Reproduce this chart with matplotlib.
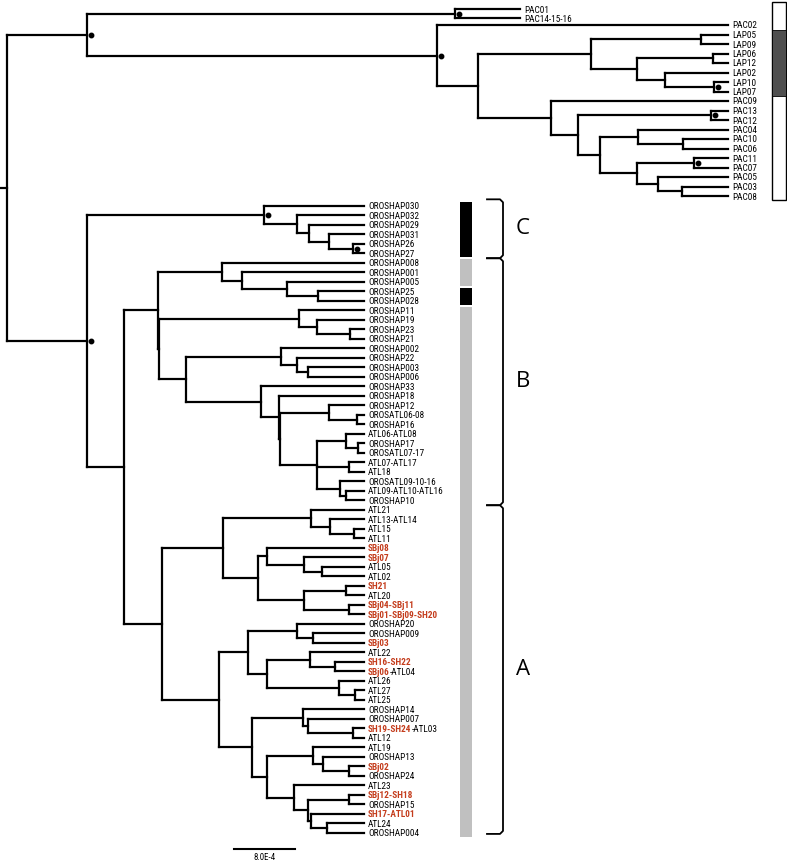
import matplotlib
matplotlib.use('Agg')
import matplotlib.pyplot as plt
from matplotlib import font_manager
from matplotlib.collections import LineCollection
from matplotlib.patches import Rectangle


def N(depth, *children, dot=False, tip=None):
    return {'d': depth, 'kids': list(children), 'dot': dot, 'tip': tip}

# ---------------- data: node depths in units of 1e-4 substitutions ----------------
upper_tree = N(10.49,
    N(58.75, 'PAC01', 'PAC14-15-16', dot=True, tip=67.28),
    N(56.39, 'PAC02',
      N(61.77,
        N(76.59,
          N(91.02, 'LAP05', 'LAP09'),
          N(82.62, N(92.59, 'LAP06', 'LAP12'),
                   N(86.30, 'LAP02', N(92.72, 'LAP10', 'LAP07', dot=True)))),
        N(71.34, 'PAC09',
          N(74.89,
            N(92.33, 'PAC13', 'PAC12', dot=True),
            N(77.77,
              N(82.75, 'PAC04', N(88.66, 'PAC10', 'PAC06')),
              N(82.62, N(90.10, 'PAC11', 'PAC07', dot=True),
                       N(85.38, 'PAC05', N(88.52, 'PAC03', 'PAC08'))))))),
      dot=True),
    dot=True)

clade_C = N(33.70, 'OROSHAP030',
            N(38.03, 'OROSHAP032',
              N(39.61, 'OROSHAP029',
                N(42.23, 'OROSHAP031', N(45.38, 'OROSHAP26', 'OROSHAP27', dot=True)))),
            dot=True)

clade_B = N(19.80,
    N(28.20, 'OROSHAP008', N(30.82, 'OROSHAP001',
                             N(36.72, 'OROSHAP005', N(40.79, 'OROSHAP25', 'OROSHAP028')))),
    N(19.93,
      N(38.30, 'OROSHAP11', N(40.66, 'OROSHAP19', N(44.98, 'OROSHAP23', 'OROSHAP21'))),
      N(23.48,
        N(35.93, 'OROSHAP002', N(38.03, 'OROSHAP22', N(39.48, 'OROSHAP003', 'OROSHAP006'))),
        N(33.31, 'OROSHAP33',
          N(35.67, 'OROSHAP18',
            N(35.80,
              N(42.23, 'OROSHAP12', N(45.90, 'OROSATL06-08', 'OROSHAP16')),
              N(40.66,
                N(44.46, 'ATL06-ATL08', N(46.03, 'OROSHAP17', 'OROSATL07-17')),
                N(44.85, 'ATL07-ATL17', 'ATL18'),
                N(43.67, 'OROSATL09-10-16', N(44.46, 'ATL09-ATL10-ATL16', 'OROSHAP10')))))))))

clade_A = N(20.33,
    N(28.33,
      N(39.87, 'ATL21', N(42.36, 'ATL13-ATL14', N(45.51, 'ATL15', 'ATL11'))),
      N(32.92,
        N(34.10, 'SBj08', N(38.95, 'SBj07', N(41.31, 'ATL05', 'ATL02'))),
        N(38.95, N(44.46, 'SH21', 'ATL20'), N(44.85, 'SBj04-SBj11', 'SBj01-SBj09-SH20')))),
    N(27.80,
      N(31.61,
        N(38.03, 'OROSHAP20', N(40.13, 'OROSHAP009', 'SBj03')),
        N(34.10,
          N(39.74, 'ATL22', N(43.02, 'SH16-SH22', 'SBj06-ATL04')),
          N(43.54, 'ATL26', N(45.64, 'ATL27', 'ATL25')))),
      N(32.13,
        N(38.82, 'OROSHAP14', N(39.48, 'OROSHAP007', N(45.38, 'SH19-SH24-ATL03', 'ATL12'))),
        N(34.10,
          N(40.13, 'ATL19', N(41.44, 'OROSHAP13', N(44.85, 'SBj02', 'OROSHAP24'))),
          N(37.64, 'ATL23',
            N(39.48, N(44.85, 'SBj12-SH18', 'OROSHAP15'),
                     N(39.87, 'SH17-ATL01', N(41.97, 'ATL24', 'OROSHAP004'))))))))

lower_tree = N(10.49, clade_C, N(15.34, clade_B, clade_A), dot=True)

upper_tip_depth = 94.56
lower_tip_depth = 46.82
upper_first_row = -2.0
lower_first_row = 19.05
row_override = {'PAC01': -1.65, 'PAC14-15-16': -0.7}

# labels coloured red: label -> red prefix
red_labels = {
    'SBj08': 'SBj08', 'SBj07': 'SBj07', 'SH21': 'SH21', 'SBj04-SBj11': 'SBj04-SBj11',
    'SBj01-SBj09-SH20': 'SBj01-SBj09-SH20', 'SBj03': 'SBj03', 'SH16-SH22': 'SH16-SH22',
    'SBj06-ATL04': 'SBj06', 'SH19-SH24-ATL03': 'SH19-SH24', 'SBj02': 'SBj02',
    'SBj12-SH18': 'SBj12-SH18', 'SH17-ATL01': 'SH17-ATL01',
}

# colour bar segments (first leaf, last leaf, colour)
lower_bar = [('OROSHAP030', 'OROSHAP27', '#000000'),
             ('OROSHAP008', 'OROSHAP005', '#c0c0c0'),
             ('OROSHAP25', 'OROSHAP028', '#000000'),
             ('OROSHAP11', 'OROSHAP004', '#c0c0c0')]
upper_bar_dark = ('LAP05', 'LAP07', '#4f4f4f')

bracket_groups = [('C', 'OROSHAP030', 'OROSHAP27'),
                  ('B', 'OROSHAP008', 'OROSHAP10'),
                  ('A', 'ATL21', 'OROSHAP004')]

scale_length = 8.0          # in 1e-4 units
scale_label = '8.0E-4'

# ---------------- layout helpers (pixel -> data) ----------------
W, H, DPI = 787, 866, 100
PX_X0, PX_PER_UNIT = 7.0, 7.625
PX_Y0, PX_PER_ROW = 25.0, 9.5


def dx(px):
    return (px - PX_X0) / PX_PER_UNIT


def dy(px):
    return (px - PX_Y0) / PX_PER_ROW


names = {f.name for f in font_manager.fontManager.ttflist}
LABEL_FONT = 'DejaVu Sans'
for cand in ['Liberation Sans Narrow', 'Arial Narrow', 'Roboto Condensed',
             'PT Sans Narrow', 'Archivo Narrow', 'Asap Condensed']:
    if cand in names:
        LABEL_FONT = cand
        break
RED = '#c43c1c'
LW = 1.6

fig = plt.figure(figsize=(W / DPI, H / DPI), dpi=DPI)
ax = fig.add_axes([0, 0, 1, 1])
ax.set_xlim(dx(0), dx(W))
ax.set_ylim(dy(H), dy(0))
ax.axis('off')

# size the label font so that "OROSHAP030" is ~51 px wide, as in the reference
fig.canvas.draw()
renderer = fig.canvas.get_renderer()
probe = fig.text(0, 0, 'OROSHAP030', fontsize=10, family=LABEL_FONT)
pw = probe.get_window_extent(renderer).width
probe.remove()
LABEL_SIZE = 10 * 51.0 / pw

segments = []
dots = []
leaves = []   # (name, depth, row)


def layout(node, tip, counter):
    if isinstance(node, str):
        counter[0] += 1
        r = row_override.get(node, counter[0])
        leaves.append((node, tip, r))
        return tip, r
    if node['tip'] is not None:
        tip = node['tip']
    pos = [layout(k, tip, counter) for k in node['kids']]
    ys = [p[1] for p in pos]
    y = (min(ys) + max(ys)) / 2
    d = node['d']
    segments.append([(d, min(ys)), (d, max(ys))])
    for (cd, cy) in pos:
        segments.append([(d, cy), (cd, cy)])
    if node['dot']:
        dots.append((d + dx(PX_X0 + 4), y))
    return d, y


uc = [upper_first_row - 1]
ud, uy = layout(upper_tree, upper_tip_depth, uc)
lc = [lower_first_row - 1]
ld, ly = layout(lower_tree, lower_tip_depth, lc)
root_y = (uy + ly) / 2
segments.append([(0, uy), (0, ly)])
segments.append([(0, uy), (ud, uy)])
segments.append([(0, ly), (ld, ly)])
segments.append([(dx(0), root_y), (0, root_y)])

ax.add_collection(LineCollection(segments, colors='black', linewidths=LW,
                                 capstyle='projecting', joinstyle='miter'))
ax.plot([p[0] for p in dots], [p[1] for p in dots], 'o', color='black',
        markersize=3.2, zorder=5)

row_of = {n: r for n, _, r in leaves}

lab_off = 4 / PX_PER_UNIT
for name, tipd, r in leaves:
    x = tipd + lab_off
    if name in red_labels:
        red = red_labels[name]
        t = ax.text(x, r, red, color=RED, fontweight='bold', fontsize=LABEL_SIZE,
                    family=LABEL_FONT, va='center_baseline', ha='left')
        rest = name[len(red):]
        if rest:
            w = t.get_window_extent(renderer).width
            ax.annotate(rest, xy=(x, r), xytext=(w, 0), textcoords='offset pixels',
                        fontsize=LABEL_SIZE, family=LABEL_FONT, color='black',
                        va='center_baseline', ha='left')
    else:
        ax.text(x, r, name, color='black', fontsize=LABEL_SIZE, family=LABEL_FONT,
                va='center_baseline', ha='left')

# lower colour bar
gap = 0.09
bx0, bx1 = dx(460), dx(472)
for first, last, col in lower_bar:
    y0 = row_of[first] - 0.5 + gap
    y1 = row_of[last] + 0.5 - gap
    ax.add_patch(Rectangle((bx0, y0), bx1 - bx0, y1 - y0, facecolor=col, edgecolor='none'))

# upper colour bar
ux0, ux1 = dx(772), dx(786)
uy0, uy1 = dy(2), dy(200)
ax.add_patch(Rectangle((ux0, uy0), ux1 - ux0, uy1 - uy0, facecolor='white',
                       edgecolor='black', linewidth=1.0, zorder=3))
f, l, c = upper_bar_dark
ax.add_patch(Rectangle((ux0, row_of[f] - 0.5), ux1 - ux0, row_of[l] - row_of[f] + 1.0,
                       facecolor=c, edgecolor='black', linewidth=0.6, zorder=4))

# brackets
kx0, kx1 = dx(487), dx(503)
r_c = dx(503) - dx(500)
for i, (lab, first, last) in enumerate(bracket_groups):
    top = row_of[first] - (0.7 if i == 0 else 0.5)
    bot = row_of[last] + (0.1 if i == len(bracket_groups) - 1 else 0.5)
    ry = 3 / PX_PER_ROW
    ax.plot([kx0, kx1 - r_c, kx1, kx1, kx1 - r_c, kx0],
            [top, top, top + ry, bot - ry, bot, bot], color='black', lw=1.3,
            solid_joinstyle='round')
    ax.text(dx(523), (top + bot) / 2, lab, fontsize=16, family='Open Sans',
            ha='center', va='center', color='black')

# scale bar
sx = dx(234)
sy = dy(849)
ax.plot([sx, sx + scale_length], [sy, sy], color='black', lw=1.5)
ax.text(sx + scale_length / 2, dy(857), scale_label, fontsize=LABEL_SIZE * 0.95,
        family=LABEL_FONT, ha='center', va='center')

fig.savefig('out.png', dpi=DPI)
